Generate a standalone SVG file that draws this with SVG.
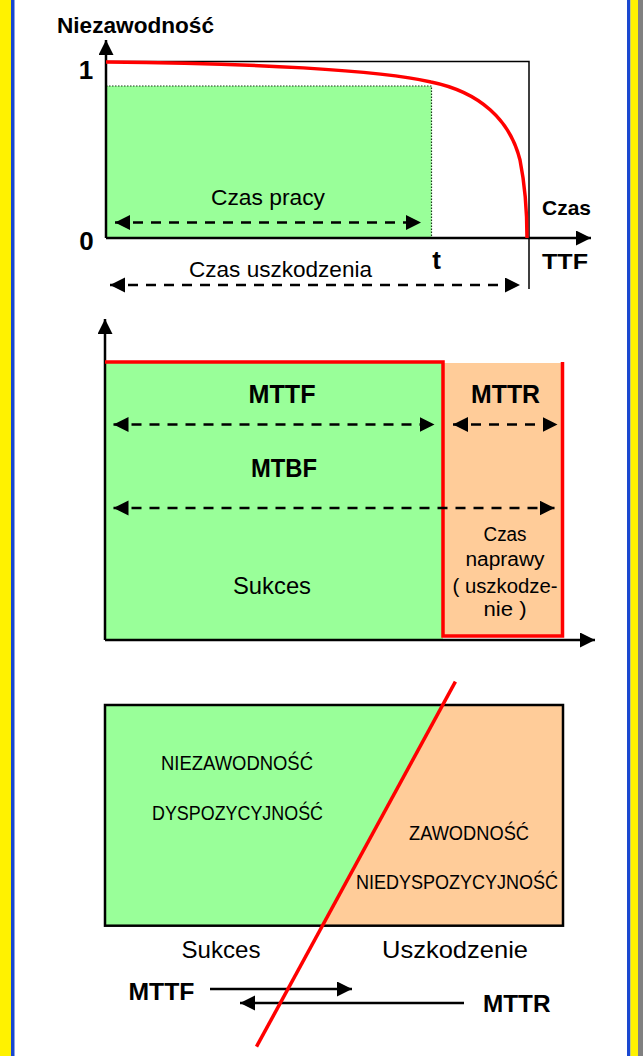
<svg xmlns="http://www.w3.org/2000/svg" width="643" height="1056" viewBox="0 0 643 1056">
<style>
.t{font-family:"Liberation Sans",Arial,sans-serif;fill:#000}
.b{font-weight:bold}
.ax{stroke:#000;stroke-width:2.5;fill:none}
.thin{stroke:#000;stroke-width:1.5;fill:none}
.dash{stroke:#000;stroke-width:2.5;stroke-dasharray:10 8;fill:none}
.solid{stroke:#000;stroke-width:2.5;fill:none}
.red{stroke:#ff0000;fill:none}
</style>
<defs>
<marker id="ah" markerUnits="userSpaceOnUse" markerWidth="16" markerHeight="16" refX="15" refY="7.5" orient="auto-start-reverse">
<path d="M0,0 L15,7.5 L0,15 z" fill="#000"/>
</marker>
<marker id="axh" markerUnits="userSpaceOnUse" markerWidth="16" markerHeight="16" refX="15" refY="7.5" orient="auto">
<path d="M0,0 L15,7.5 L0,15 z" fill="#000"/>
</marker>
</defs>
<rect width="643" height="1056" fill="#fff"/>
<g id="frame">
<rect x="0" y="0" width="11" height="1056" fill="#fff200"/>
<rect x="11" y="0" width="3.5" height="1056" fill="#1a48d0"/>
<rect x="627" y="0" width="3.5" height="1056" fill="#1a48d0"/>
<rect x="630.5" y="0" width="7.5" height="1056" fill="#fff200"/>
<rect x="638" y="0" width="5" height="1056" fill="#808080"/>
</g>
<g id="chart1">
<rect x="106" y="86" width="325.5" height="152" fill="#99ff99"/>
<path d="M106,86 H431.5 V238" stroke="#1a3a1a" stroke-width="1.2" stroke-dasharray="1.5 1.5" fill="none"/>
<path class="thin" d="M106,61.5 H529 V289"/>
<path class="ax" d="M106,238 V40" marker-end="url(#axh)"/>
<path class="ax" d="M106,238 H591" marker-end="url(#axh)"/>
<path class="red" stroke-width="3.5" d="M106,62 C250,63 380,70 431,82 C480,92 510,120 520,160 C526,190 527,215 527,238"/>
<text class="t b" x="57" y="33" font-size="22" textLength="157" lengthAdjust="spacingAndGlyphs">Niezawodność</text>
<text class="t b" x="86" y="79" font-size="26" text-anchor="middle">1</text>
<text class="t b" x="86.5" y="250" font-size="26" text-anchor="middle">0</text>
<text class="t" x="268" y="205" font-size="22" text-anchor="middle" textLength="114" lengthAdjust="spacingAndGlyphs">Czas pracy</text>
<text class="t b" x="542" y="215" font-size="21" textLength="49" lengthAdjust="spacingAndGlyphs">Czas</text>
<text class="t b" x="436.5" y="269" font-size="26" text-anchor="middle">t</text>
<text class="t b" x="542" y="269" font-size="22" textLength="46" lengthAdjust="spacingAndGlyphs">TTF</text>
<text class="t" x="280.5" y="277" font-size="22" text-anchor="middle" textLength="183" lengthAdjust="spacingAndGlyphs">Czas uszkodzenia</text>
</g>
<g id="chart2">
<rect x="106" y="362" width="337" height="278" fill="#99ff99"/>
<rect x="443" y="363" width="120" height="274" fill="#ffcc99"/>
<path class="ax" d="M105,640 V319" marker-end="url(#axh)"/>
<path class="ax" d="M105,640 H595" marker-end="url(#axh)"/>
<path class="red" stroke-width="3.5" d="M105,362 H443 V636 H562.5 V362"/>
<text class="t b" x="282" y="403" font-size="25" text-anchor="middle" textLength="67" lengthAdjust="spacingAndGlyphs">MTTF</text>
<text class="t b" x="505.5" y="403" font-size="25" text-anchor="middle" textLength="69" lengthAdjust="spacingAndGlyphs">MTTR</text>
<text class="t b" x="284" y="477" font-size="25" text-anchor="middle" textLength="66" lengthAdjust="spacingAndGlyphs">MTBF</text>
<text class="t" x="272" y="594" font-size="24" text-anchor="middle" textLength="78" lengthAdjust="spacingAndGlyphs">Sukces</text>
<text class="t" x="505" y="541" font-size="19.5" text-anchor="middle" textLength="43" lengthAdjust="spacingAndGlyphs">Czas</text>
<text class="t" x="505" y="566" font-size="19.5" text-anchor="middle" textLength="79" lengthAdjust="spacingAndGlyphs">naprawy</text>
<text class="t" x="505" y="593" font-size="19.5" text-anchor="middle" textLength="105" lengthAdjust="spacingAndGlyphs">( uszkodze-</text>
<text class="t" x="505" y="616" font-size="19.5" text-anchor="middle" textLength="43" lengthAdjust="spacingAndGlyphs">nie )</text>
</g>
<g id="chart3">
<polygon points="105,705 441.6,705 322,925.7 105,925.7" fill="#99ff99"/>
<polygon points="441.6,705 563,705 563,925.7 322,925.7" fill="#ffcc99"/>
<rect x="105" y="705" width="458" height="220.7" fill="none" stroke="#000" stroke-width="2.5"/>
<text class="t" x="237" y="770" font-size="21" text-anchor="middle" textLength="152" lengthAdjust="spacingAndGlyphs">NIEZAWODNOŚĆ</text>
<text class="t" x="237.5" y="820" font-size="21" text-anchor="middle" textLength="171" lengthAdjust="spacingAndGlyphs">DYSPOZYCYJNOŚĆ</text>
<text class="t" x="469" y="840" font-size="21" text-anchor="middle" textLength="120" lengthAdjust="spacingAndGlyphs">ZAWODNOŚĆ</text>
<text class="t" x="457" y="889" font-size="21" text-anchor="middle" textLength="202" lengthAdjust="spacingAndGlyphs">NIEDYSPOZYCYJNOŚĆ</text>
<text class="t" x="221" y="958" font-size="24" text-anchor="middle" textLength="79" lengthAdjust="spacingAndGlyphs">Sukces</text>
<text class="t" x="455" y="958" font-size="24" text-anchor="middle" textLength="146" lengthAdjust="spacingAndGlyphs">Uszkodzenie</text>
<text class="t b" x="128.5" y="1000" font-size="23" textLength="66" lengthAdjust="spacingAndGlyphs">MTTF</text>
<text class="t b" x="483" y="1012" font-size="23" textLength="67.5" lengthAdjust="spacingAndGlyphs">MTTR</text>
</g>
<g id="connectors">
<path class="dash" d="M115,222.5 H421" marker-start="url(#ah)" marker-end="url(#ah)"/>
<path class="dash" d="M110,285 H520" marker-start="url(#ah)" marker-end="url(#ah)"/>
<path class="dash" d="M113.5,424.5 H434.5" marker-start="url(#ah)" marker-end="url(#ah)"/>
<path class="dash" d="M453,424.5 H557.5" marker-start="url(#ah)" marker-end="url(#ah)"/>
<path class="dash" d="M113.5,508 H554.5" marker-start="url(#ah)" marker-end="url(#ah)"/>
<path class="solid" d="M210,989 H352" marker-end="url(#ah)"/>
<path class="solid" d="M464,1003 H240" marker-end="url(#ah)"/>
<path class="red" stroke-width="3.5" d="M455.4,681.7 L256.5,1046.7"/>
</g>
</svg>
